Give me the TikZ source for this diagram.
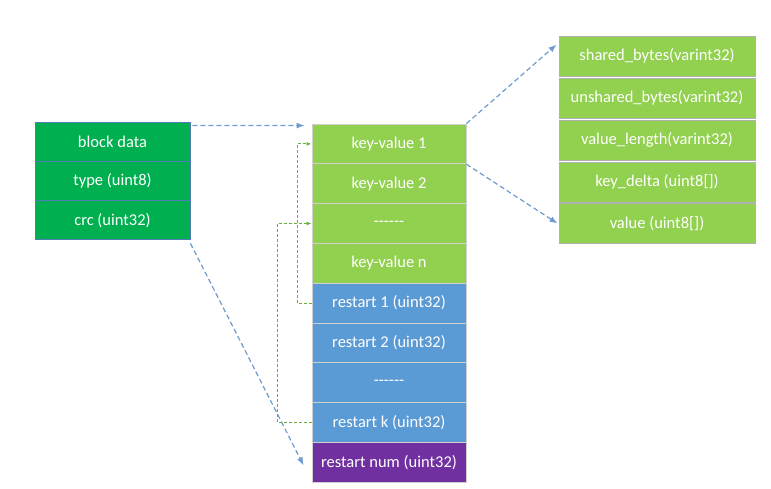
\documentclass[tikz,border=0pt]{standalone}
\usepackage{fontspec}
\setmainfont{Carlito}
\usetikzlibrary{arrows.meta}
\definecolor{dkgreen}{HTML}{00B050}
\definecolor{ltgreen}{HTML}{92D050}
\definecolor{cellblue}{HTML}{5B9BD5}
\definecolor{cellpurple}{HTML}{7030A0}
\definecolor{linkblue}{HTML}{6D9BD1}
\definecolor{linkgreen}{HTML}{62B23A}
\definecolor{edgeblue}{HTML}{4F7DB8}
\definecolor{edgegrey}{HTML}{D0D0D0}
\newcommand{\sixdash}{-{}-{}-{}-{}-{}-}

\begin{document}
\begin{tikzpicture}[x=1pt,y=-1pt,
  cell/.style={rectangle,draw=edgegrey,line width=0.9pt,text=white,inner sep=0pt,
    font=\fontsize{16.5}{19}\selectfont},
  blkcell/.style={cell,fill=dkgreen,draw=edgeblue,minimum width=155pt,minimum height=39.3pt},
  midcell/.style={cell,minimum width=154pt,minimum height=39.8pt},
  reccell/.style={cell,fill=ltgreen,draw=edgegrey!85!black,minimum width=196pt,minimum height=40pt},
  bluelink/.style={draw=linkblue,line width=1.2pt,dash pattern=on 5pt off 3pt,-{Latex[length=8pt,width=6pt]}},
  greenlink/.style={draw=linkgreen,line width=1.1pt,dash pattern=on 3pt off 2pt,-{Latex[length=5pt,width=4pt]}}]
\useasboundingbox (0,0) rectangle (771,489);
% left block
\node[blkcell] (blkdata) at (112.5,141.7) {block data};
\node[blkcell] (blktype) at (112.5,181) {type (uint8)};
\node[blkcell] (blkcrc) at (112.5,220.3) {crc (uint32)};
% middle column
\node[midcell,fill=ltgreen] (kv1) at (389,143.9) {key-value 1};
\node[midcell,fill=ltgreen] (kv2) at (389,183.7) {key-value 2};
\node[midcell,fill=ltgreen] (kvdots) at (389,223.5) {\sixdash};
\node[midcell,fill=ltgreen] (kvn) at (389,263.3) {key-value n};
\node[midcell,fill=cellblue] (rs1) at (389,303.1) {restart 1 (uint32)};
\node[midcell,fill=cellblue] (rs2) at (389,342.9) {restart 2 (uint32)};
\node[midcell,fill=cellblue] (rsdots) at (389,382.7) {\sixdash};
\node[midcell,fill=cellblue] (rsk) at (389,422.5) {restart k (uint32)};
\node[midcell,fill=cellpurple] (rsnum) at (389,462.3) {restart num (uint32)};
% right column
\node[reccell] (shared) at (657,56) {shared\_bytes(varint32)};
\node[reccell] (unshared) at (657,98) {unshared\_bytes(varint32)};
\node[reccell] (vallen) at (657,140) {value\_length(varint32)};
\node[reccell] (keydelta) at (657,182) {key\_delta (uint8[])};
\node[reccell] (value) at (657,223.5) {value (uint8[])};
% links
\path[bluelink] ([xshift=2pt,yshift=-4pt]blkdata.north east) -- ([xshift=-7pt,yshift=-2pt]kv1.north west);
\path[bluelink] ([yshift=-3pt]blkcrc.south east) -- ([xshift=-8pt,yshift=-3pt]rsnum.west);
\path[bluelink] (kv1.north east) -- ([xshift=-2pt,yshift=-9pt]shared.north west);
\path[bluelink] (kv1.south east) -- ([xshift=-1pt]value.west);
\path[greenlink] (rs1.west) -- ++(-14.5,0) |- (kv1.west);
\path[greenlink] (rsk.west) -- ++(-34.5,0) |- (kvdots.west);
\end{tikzpicture}
\end{document}
